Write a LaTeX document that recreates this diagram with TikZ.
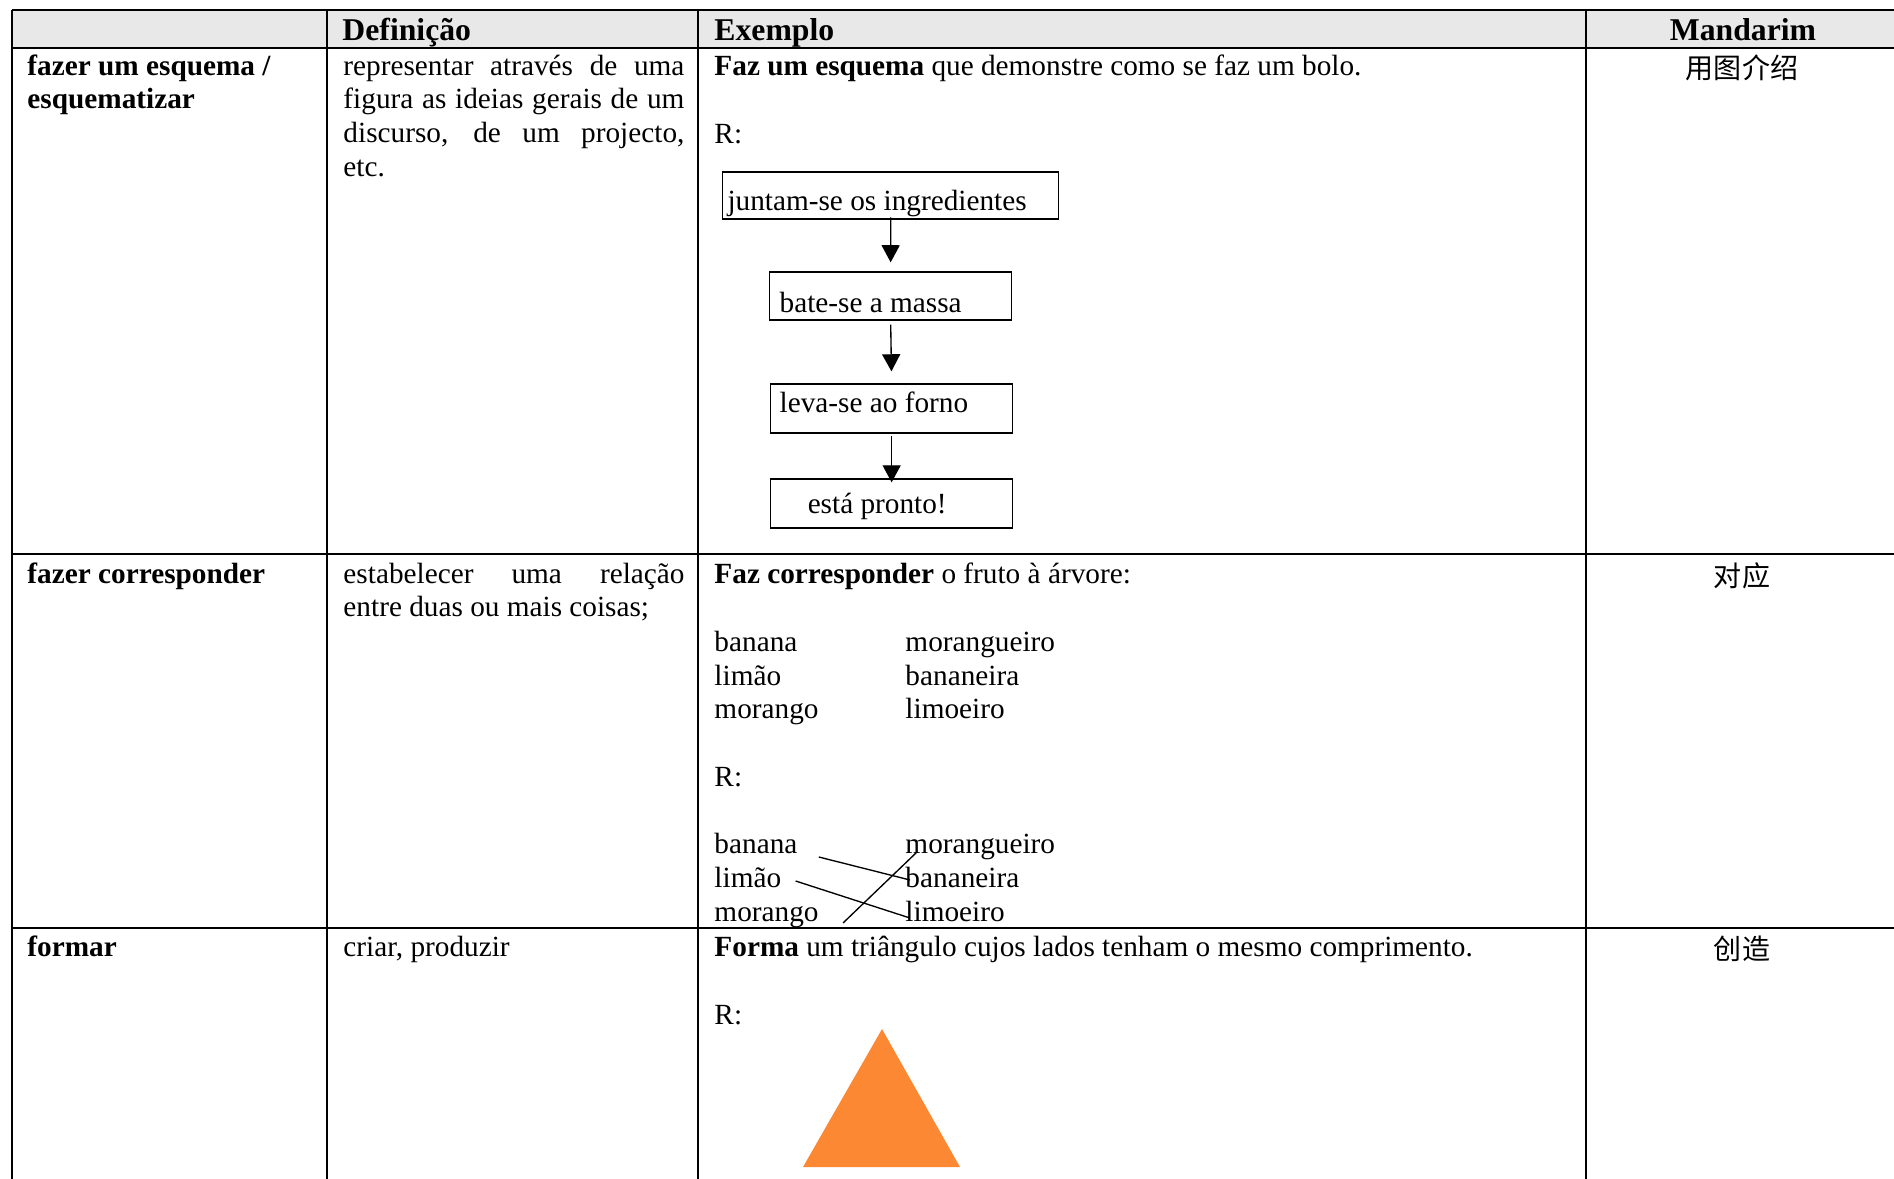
\documentclass[tikz,border=0pt]{standalone}
\usepackage{fontspec}
\setmainfont{Liberation Serif}
\newfontfamily\cjk{Noto Sans CJK SC}
\usepackage{tikz}
\usetikzlibrary{arrows.meta}
\definecolor{headcolor}{RGB}{232, 232, 232}
\definecolor{shapecolor}{RGB}{253, 136, 52}

\begin{document}
\begin{tikzpicture}[
    x=0.41pt, y=-0.41pt,
    every node/.style={inner sep=0pt, font=\fontsize{12pt}{13.86pt}\selectfont},
    cell/.style={anchor=base west},
    term/.style={anchor=base west, text width=119pt, align=flush left, font=\fontsize{12pt}{13.86pt}\selectfont\bfseries},
    head/.style={anchor=base west, font=\fontsize{13pt}{15pt}\selectfont\bfseries},
    para/.style={anchor=base west, text width=139.8pt, align=justify},
    mandarin/.style={anchor=base, font=\fontsize{11.5pt}{14pt}\cjk},
    stepbox/.style={draw, line width=0.55pt, anchor=base west, align=flush left},
    arrow/.style={-{Triangle[width=7.4pt, length=7pt]}, line width=0.55pt},
    link/.style={line width=0.55pt},
    grid/.style={line width=0.8pt}
]
    \useasboundingbox (0,0) rectangle (1894,1179);

    % Table frame
    \fill[headcolor] (12,10) rectangle (1894,48);
    \draw[grid] (12,10) -- (1894,10);
    \foreach \y in {48,554,928}
        \draw[grid] (12,\y) -- (1894,\y);
    \foreach \x in {12,327,698,1586}
        \draw[grid] (\x,10) -- (\x,1179);

    % Header
    \node[head] (hdef) at (342,40) {Definição};
    \node[head] (hex) at (714,40) {Exemplo};
    \node[head, anchor=base] (hman) at (1743,40) {Mandarim};

    % Row 1: esquema
    \node[term] (t1) at (27,75) {fazer um esquema /\\esquematizar};
    \node[para] (d1) at (343,75) {representar através de uma\linebreak figura as ideias gerais de um\linebreak discurso, de um projecto,\linebreak etc.};
    \node[cell] (e1) at (714,75) {\textbf{Faz um esquema} que demonstre como se faz um bolo.};
    \node[cell] (r1) at (714,143) {R:};
    \node[mandarin] (m1) at (1742,78) {用图介绍};

    \node[stepbox, inner xsep=2pt, text width=133.8pt, text height=15.6pt, text depth=3.7pt] (b1) at (722,210) {juntam-se os ingredientes};
    \node[stepbox, inner xsep=4.1pt, text width=91pt, text height=16.4pt, text depth=3.3pt] (b2) at (769,312) {bate-se a massa};
    \node[stepbox, inner xsep=3.7pt, text width=91.8pt, text height=11.5pt, text depth=8.6pt] (b3) at (770,412) {leva-se ao forno};
    \node[stepbox, inner xsep=15.2pt, text width=68.8pt, text height=13.9pt, text depth=6.2pt] (b4) at (770,513) {está pronto!};

    \draw[arrow, shorten <=-1pt, shorten >=3.7pt] (b1.south) -- (b2.north);
    \draw[arrow, shorten <=1.6pt, shorten >=4.9pt] (b2.south) -- (b3.north);
    \draw[arrow, shorten <=0.8pt, shorten >=-1.6pt] (b3.south) -- (b4.north);

    % Row 2: corresponder
    \node[term] (t2) at (27,583) {fazer corresponder};
    \node[para] (d2) at (343,583) {estabelecer uma relação\linebreak entre duas ou mais coisas;};
    \node[cell] (e2) at (714,583) {\textbf{Faz corresponder} o fruto à árvore:};
    \node[mandarin] (m2) at (1742,586) {对应};

    \node[cell] (ban) at (714,651) {banana};
    \node[cell] (lim) at (714,685) {limão};
    \node[cell] (mor) at (714,718) {morango};
    \node[cell] (mgr) at (905,651) {morangueiro};
    \node[cell] (bnr) at (905,685) {bananeira};
    \node[cell] (lmr) at (905,718) {limoeiro};

    \node[cell] (r2) at (714,786) {R:};

    \node[cell] (ban2) at (714,853) {banana};
    \node[cell] (lim2) at (714,887) {limão};
    \node[cell] (mor2) at (714,921) {morango};
    \node[cell] (mgr2) at (905,853) {morangueiro};
    \node[cell] (bnr2) at (905,887) {bananeira};
    \node[cell] (lmr2) at (905,921) {limoeiro};

    \draw[link] ([shift={(21,4)}]ban2.base east) -- ([shift={(5,-7)}]bnr2.base west);
    \draw[link] ([shift={(14,-6)}]lim2.base east) -- ([shift={(5,-3)}]lmr2.base west);
    \draw[link] ([shift={(24,2)}]mor2.base east) -- ([shift={(12,-1)}]mgr2.base west);

    % Row 3: formar
    \node[term] (t3) at (27,956) {formar};
    \node[cell] (d3) at (343,956) {criar, produzir};
    \node[cell] (e3) at (714,956) {\textbf{Forma} um triângulo cujos lados tenham o mesmo comprimento.};
    \node[cell] (r3) at (714,1024) {R:};
    \node[mandarin] (m3) at (1742,959) {创造};

    \fill[shapecolor] (882,1029) -- (960,1167) -- (803,1167) -- cycle;
\end{tikzpicture}
\end{document}
